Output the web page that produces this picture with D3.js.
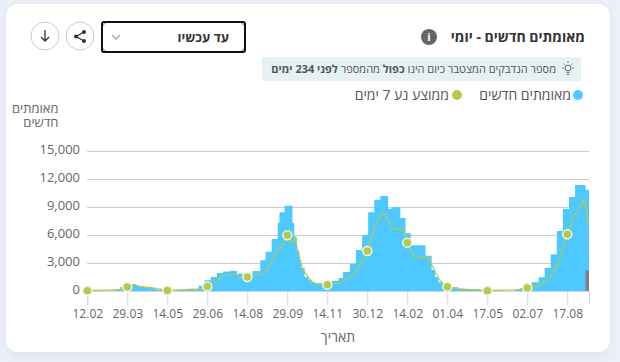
<!DOCTYPE html>
<html>
<head>
<meta charset="utf-8">
<script src="https://cdn.jsdelivr.net/npm/d3@7"></script>
<style>
	html, body { margin: 0; padding: 0; background: #ecf0f8; overflow: hidden; }
	text { font-family: "Open Sans", "Noto Sans", sans-serif; }
</style>
</head>
<body>
<svg id="chart" width="620" height="362"></svg>
<script>
// days since 12.02 where each bar step starts, and the height of that step
const stepDays = [0, 18, 26, 32, 38, 43, 51, 56, 59, 65, 72, 79, 87, 106, 115, 128, 135, 142, 149, 156, 164, 172, 179, 190, 199, 205, 212, 219, 221, 227, 236, 238, 241, 244, 246, 250, 254, 258, 262, 281, 289, 294, 302, 309, 316, 323, 330, 337, 346, 350, 360, 366, 372, 389, 396, 400, 404, 409, 419, 427, 452, 475, 492, 498, 502, 511, 519, 526, 533, 540, 547, 554, 561, 573, 577]
const stepValues = [30, 40, 60, 200, 430, 680, 750, 570, 535, 390, 285, 140, 70, 140, 250, 570, 1140, 1500, 1930, 2100, 2180, 1860, 1750, 2150, 3300, 4200, 5570, 7300, 8430, 9140, 7300, 5750, 4250, 3360, 2460, 1500, 1200, 930, 860, 1100, 1400, 2030, 2930, 4390, 5960, 8430, 9790, 10180, 8820, 8960, 7820, 6200, 4890, 3790, 2290, 1500, 930, 570, 390, 210, 100, 40, 140, 320, 500, 930, 1460, 2460, 3930, 6430, 8790, 10070, 11360, 10860, 10860]

// 7 day average
const avgDays = [0, 38, 46, 50, 56, 61, 72, 84, 92, 118, 130, 138, 149, 156, 168, 176, 184, 195, 204, 212, 220, 224, 228, 230, 235, 239, 243, 248, 256, 262, 276, 291, 305, 314, 322, 331, 340, 345, 350, 356, 362, 365, 368, 377, 391, 400, 405, 414, 425, 440, 460, 494, 506, 518, 532, 544, 552, 561, 567, 570, 573, 576]
const avgValues = [30, 150, 430, 620, 600, 470, 380, 200, 60, 150, 200, 470, 1040, 1640, 1820, 1500, 1500, 1710, 1930, 3180, 4600, 4700, 5680, 5960, 5140, 5790, 3900, 2290, 1210, 790, 680, 860, 1750, 2820, 4290, 6930, 8430, 7820, 6750, 6570, 6640, 6040, 5180, 3610, 3710, 2110, 1210, 460, 250, 140, 30, 140, 320, 500, 1390, 3530, 6070, 8180, 8890, 9790, 9250, 7100]

// last, incomplete stretch drawn in grey
const partialDays = [573, 577]
const partialValue = 2200

const tickDays = [0, 46, 92, 138, 184, 230, 276, 322, 368, 414, 460, 506, 552]
const tickLabels = ["12.02", "29.03", "14.05", "29.06", "14.08", "29.09", "14.11", "30.12", "14.02", "01.04", "17.05", "02.07", "17.08"]
const yTicks = [0, 3000, 6000, 9000, 12000, 15000]

const svg = d3.select("#chart")

// card
svg.append("rect").attr("x", 6).attr("y", 6).attr("width", 604).attr("height", 350).attr("rx", 12)
	.attr("fill", "#dfe3ec").style("filter", "blur(4px)")
svg.append("rect").attr("x", 6).attr("y", 4).attr("width", 604).attr("height", 348).attr("rx", 12)
	.attr("fill", "#fff")

const x = d3.scaleLinear().domain([0, 577]).range([87.3, 589])
const y = d3.scaleLinear().domain([0, 15000]).range([291, 151])

// Y-axis and gridlines
const yAxis = svg.append("g").attr("transform", "translate(87,0)")
	.call(d3.axisLeft(y).tickValues(yTicks).tickSize(-502).tickPadding(7).tickFormat(d3.format(",")))
yAxis.select(".domain").remove()
yAxis.selectAll("line").attr("stroke", "#cccccc")
yAxis.selectAll("text").attr("y", -1.5).attr("fill", "#666").style("font-size", "13px")

// X-axis
const xAxis = svg.append("g").attr("transform", "translate(0,291)")
	.call(d3.axisBottom(x).tickValues(tickDays).tickSize(14).tickPadding(4).tickFormat((d, i) => tickLabels[i]))
xAxis.select(".domain").attr("stroke", "#ccd6eb")
xAxis.selectAll("line").attr("stroke", "#ccd6eb")
xAxis.selectAll("text").attr("fill", "#666").style("font-size", "12px")

// Bars
const steps = stepDays.map((d, i) => ({ day: d, value: stepValues[i] }))
svg.append("path").datum(steps)
	.attr("fill", "#4dc9ff")
	.attr("d", d3.area().curve(d3.curveStepAfter).x((d) => x(d.day)).y0(y(0)).y1((d) => y(d.value)))

svg.append("rect")
	.attr("x", x(partialDays[0])).attr("width", x(partialDays[1]) - x(partialDays[0]))
	.attr("y", y(partialValue)).attr("height", y(0) - y(partialValue))
	.attr("fill", "#7f7f86")

// Average line
const avg = avgDays.map((d, i) => ({ day: d, value: avgValues[i] }))
svg.append("path").datum(avg)
	.attr("fill", "none").attr("stroke", "#b5c94c").attr("stroke-width", 1.2)
	.attr("d", d3.line().x((d) => x(d.day)).y((d) => y(d.value)))

// markers sit on the labelled days only
svg.append("g").selectAll("circle").data(avg.filter((d) => tickDays.includes(d.day))).join("circle")
	.attr("cx", (d) => x(d.day)).attr("cy", (d) => y(d.value)).attr("r", 4.5)
	.attr("fill", "#b5c94c").attr("stroke", "#f4f6e4").attr("stroke-width", 1.5)

// rtl text: anchor "start" is the right edge
function rtlText(px, py, size, color, weight, str) {
	return svg.append("text").attr("x", px).attr("y", py)
		.attr("direction", "rtl").attr("text-anchor", "start")
		.attr("fill", color).style("font-size", size + "px").style("font-weight", weight)
		.text(str)
}

rtlText(585, 42, 14, "#333", 700, "מאומתים חדשים - יומי")
rtlText(58.5, 113, 13, "#666", 400, "מאומתים")
rtlText(58.5, 127, 13, "#666", 400, "חדשים")
svg.append("text").attr("x", 338).attr("y", 342).attr("text-anchor", "middle")
	.attr("fill", "#666").style("font-size", "14px").text("תאריך")

// info icon
svg.append("circle").attr("cx", 429).attr("cy", 37).attr("r", 8).attr("fill", "#666")
svg.append("text").attr("x", 429).attr("y", 41).attr("text-anchor", "middle")
	.attr("fill", "#fff").style("font-size", "11px").style("font-weight", 700).text("i")

// hint box
svg.append("rect").attr("x", 262).attr("y", 57).attr("width", 319).attr("height", 24).attr("rx", 2).attr("fill", "#e6f1f4")
const hint = rtlText(556, 73, 11, "#555", 400, "")
hint.append("tspan").text("מספר הנדבקים המצטבר כיום הינו ")
hint.append("tspan").style("font-weight", 700).text("כפול")
hint.append("tspan").text(" מהמספר ")
hint.append("tspan").style("font-weight", 700).text("לפני 234 ימים")

// bulb
const bulb = svg.append("g").attr("stroke", "#666").attr("fill", "none").attr("stroke-width", 1)
bulb.append("circle").attr("cx", 568).attr("cy", 68).attr("r", 3)
bulb.append("path").attr("d", "M566.5 72.5h3M567 74.5h2M568 61.5v1.5M562 68h1.5M572.5 68h1.5M563.7 63.7l1 1M572.3 63.7l-1 1")

// legend
svg.append("circle").attr("cx", 578).attr("cy", 95).attr("r", 5).attr("fill", "#4dc9ff")
rtlText(571, 100, 14, "#555", 400, "מאומתים חדשים")
svg.append("circle").attr("cx", 457).attr("cy", 95).attr("r", 5).attr("fill", "#b5c94c")
rtlText(449, 100, 14, "#555", 400, "ממוצע נע 7 ימים")

// dropdown, focus ring shows through at the corners
svg.append("rect").attr("x", 102).attr("y", 22).attr("width", 143).attr("height", 30).attr("rx", 7)
	.attr("fill", "#fff").attr("stroke", "#4d90fe").attr("stroke-width", 1)
svg.append("rect").attr("x", 102).attr("y", 22).attr("width", 143).attr("height", 30).attr("rx", 2)
	.attr("fill", "none").attr("stroke", "#111").attr("stroke-width", 2)
rtlText(229, 42, 13, "#333", 700, "עד עכשיו")
svg.append("path").attr("d", "M112 35l4 4l4-4").attr("fill", "none").attr("stroke", "#aaa").attr("stroke-width", 1.5)

// buttons
svg.selectAll(".btn").data([45, 80]).join("circle").attr("class", "btn")
	.attr("cx", (d) => d).attr("cy", 36).attr("r", 14)
	.attr("fill", "#fff").attr("stroke", "#ccc")
svg.append("path").attr("d", "M45 30v11M41 37l4 4l4-4").attr("fill", "none").attr("stroke", "#333").attr("stroke-width", 1.3)
svg.append("path").attr("d", "M84 32L76 36.5L84 41").attr("fill", "none").attr("stroke", "#333").attr("stroke-width", 1.3)
svg.selectAll(".share").data([[84, 32], [76, 36.5], [84, 41]]).join("circle").attr("class", "share")
	.attr("cx", (d) => d[0]).attr("cy", (d) => d[1]).attr("r", 2).attr("fill", "#333")
</script>
</body>
</html>
